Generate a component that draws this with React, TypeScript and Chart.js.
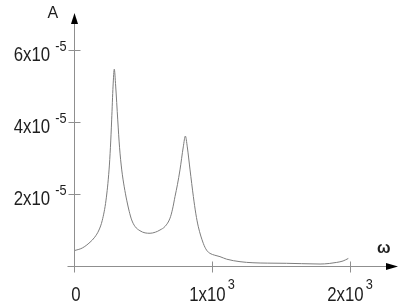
import React, { useEffect, useRef } from "react";
import { Chart, registerables } from "chart.js";

Chart.register(...registerables);

// angular frequency ω (rad/s)
const omega = [
  0, 60, 116, 150, 181, 205, 232, 254, 264, 273, 283, 292, 302, 317, 330, 346,
  364, 382, 400, 418, 442, 478, 515, 551, 590, 623, 660, 696, 714, 732, 750,
  768, 792, 807, 821, 841, 865, 883, 901, 937, 961, 986, 1020, 1058, 1106,
  1203, 1297, 1400, 1541, 1650, 1783, 1850, 1904, 1950, 1988,
];
// amplitude A
const amplitude = [
  0.425e-5, 0.5e-5, 0.66e-5, 0.8e-5, 1.0e-5, 1.27e-5, 1.83e-5, 2.67e-5,
  3.3e-5, 4.06e-5, 5.0e-5, 5.47e-5, 5.0e-5, 4.06e-5, 3.3e-5, 2.67e-5,
  2.2e-5, 1.83e-5, 1.52e-5, 1.28e-5, 1.1e-5, 0.98e-5, 0.92e-5, 0.91e-5,
  0.94e-5, 1.0e-5, 1.1e-5, 1.33e-5, 1.58e-5, 1.93e-5, 2.27e-5, 2.67e-5,
  3.31e-5, 3.61e-5, 3.31e-5, 2.67e-5, 1.93e-5, 1.45e-5, 1.09e-5, 0.63e-5,
  0.44e-5, 0.35e-5, 0.3e-5, 0.26e-5, 0.19e-5, 0.12e-5, 0.09e-5, 0.08e-5,
  0.075e-5, 0.065e-5, 0.055e-5, 0.07e-5, 0.1e-5, 0.14e-5, 0.21e-5,
];

const xTickValues = [0, 1000, 2000];
const xTickMain = ["0", "1x10", "2x10"];
const xTickSup = ["", "3", "3"];

const yTickValues = [2e-5, 4e-5, 6e-5];
const yTickMain = ["2x10", "4x10", "6x10"];
const yTickSup = ["-5", "-5", "-5"];

const yAxisTitle = "A";
const xAxisTitle = "ω";

const FONT_FAMILY = '"Liberation Sans", Arial, sans-serif';
const MAIN_FONT = `21px ${FONT_FAMILY}`;
const SUP_FONT = `15px ${FONT_FAMILY}`;
const MAIN_SX = 0.8;
const SUP_SX = 0.85;
const AXIS_COLOR = "#8f8f8f";
const TEXT_COLOR = "#1e1e1e";

function drawScaled(ctx: CanvasRenderingContext2D, text: string, x: number, y: number, sx: number) {
  ctx.save();
  ctx.translate(x, y);
  ctx.scale(sx, 1);
  ctx.fillText(text, 0, 0);
  ctx.restore();
}

const axesPlugin = {
  id: "engAxes",
  afterDraw(chart: any) {
    const ctx: CanvasRenderingContext2D = chart.ctx;
    const xs = chart.scales.x;
    const ys = chart.scales.y;
    const x0 = Math.round(xs.getPixelForValue(0)) + 0.5;
    const y0 = Math.round(ys.getPixelForValue(0)) + 0.5;
    const top = chart.chartArea.top;
    const right = chart.chartArea.right;
    ctx.save();
    ctx.strokeStyle = AXIS_COLOR;
    ctx.lineWidth = 1;
    ctx.beginPath();
    ctx.moveTo(x0, y0 + 6);
    ctx.lineTo(x0, top + 8);
    ctx.moveTo(x0 - 7, y0);
    ctx.lineTo(right - 8, y0);
    yTickValues.forEach((v) => {
      const py = Math.round(ys.getPixelForValue(v)) + 0.5;
      ctx.moveTo(x0 - 6, py);
      ctx.lineTo(x0 + 6, py);
    });
    xTickValues.forEach((v) => {
      if (v === 0) return;
      const px = Math.round(xs.getPixelForValue(v)) + 0.5;
      ctx.moveTo(px, y0 - 5);
      ctx.lineTo(px, y0 + 6);
    });
    ctx.stroke();
    ctx.fillStyle = "#000";
    ctx.beginPath();
    ctx.moveTo(x0, top);
    ctx.lineTo(x0 - 3.5, top + 11);
    ctx.lineTo(x0 + 3.5, top + 11);
    ctx.closePath();
    ctx.fill();
    ctx.beginPath();
    ctx.moveTo(right, y0);
    ctx.lineTo(right - 12, y0 - 3.5);
    ctx.lineTo(right - 12, y0 + 3.5);
    ctx.closePath();
    ctx.fill();

    ctx.fillStyle = TEXT_COLOR;
    ctx.textBaseline = "alphabetic";
    ctx.textAlign = "left";
    const gap = 5;
    yTickValues.forEach((v, i) => {
      const py = ys.getPixelForValue(v);
      ctx.font = MAIN_FONT;
      const wM = ctx.measureText(yTickMain[i]).width * MAIN_SX;
      ctx.font = SUP_FONT;
      const wS = ctx.measureText(yTickSup[i]).width * SUP_SX;
      const start = x0 - 8 - (wM + gap + wS);
      ctx.font = MAIN_FONT;
      drawScaled(ctx, yTickMain[i], start, py + 11, MAIN_SX);
      ctx.font = SUP_FONT;
      drawScaled(ctx, yTickSup[i], start + wM + gap, py + 0.5, SUP_SX);
    });
    xTickValues.forEach((v, i) => {
      const px = xs.getPixelForValue(v);
      ctx.font = MAIN_FONT;
      const wM = ctx.measureText(xTickMain[i]).width * MAIN_SX;
      ctx.font = SUP_FONT;
      const wS = xTickSup[i] ? ctx.measureText(xTickSup[i]).width * SUP_SX : 0;
      const g = xTickSup[i] ? 2 : 0;
      const total = wM + g + wS;
      const start = px - total / 2 + (xTickSup[i] ? 0 : 2);
      ctx.font = MAIN_FONT;
      drawScaled(ctx, xTickMain[i], start, y0 + 34, MAIN_SX);
      if (xTickSup[i]) {
        ctx.font = SUP_FONT;
        drawScaled(ctx, xTickSup[i], start + wM + g, y0 + 22, SUP_SX);
      }
    });
    ctx.font = `16px ${FONT_FAMILY}`;
    ctx.fillText(yAxisTitle, x0 - 27, top + 5);
    ctx.font = `bold 16px ${FONT_FAMILY}`;
    ctx.fillText(xAxisTitle, right - 21, y0 - 14);
    ctx.restore();
  },
};

export default function App() {
  const canvasRef = useRef<HTMLCanvasElement | null>(null);
  useEffect(() => {
    if (!canvasRef.current) return;
    const chart = new Chart(canvasRef.current, {
      type: "line",
      data: {
        datasets: [
          {
            data: omega.map((w, i) => ({ x: w, y: amplitude[i] })),
            borderColor: "#7d7d7d",
            borderWidth: 1,
            pointRadius: 0,
            fill: false,
            cubicInterpolationMode: "monotone",
          },
        ],
      },
      options: {
        animation: false,
        responsive: false,
        events: [],
        layout: { padding: { left: 74, right: 6, top: 13, bottom: 38 } },
        plugins: { legend: { display: false }, tooltip: { enabled: false } },
        scales: {
          x: { type: "linear", min: 0, max: 2348, display: false },
          y: { type: "linear", min: 0, max: 7.03e-5, display: false },
        },
      },
      plugins: [axesPlugin],
    });
    return () => chart.destroy();
  }, []);
  return (
    <div style={{ position: "absolute", left: 0, top: 0, width: 404, height: 304, background: "#fff" }}>
      <canvas ref={canvasRef} width={404} height={304} style={{ display: "block" }} />
    </div>
  );
}
